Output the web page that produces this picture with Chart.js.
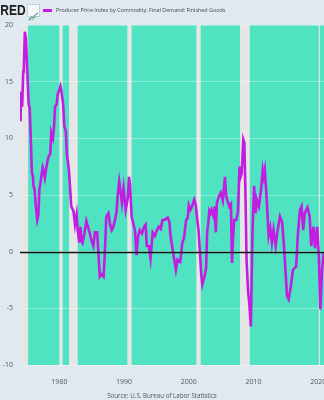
<!DOCTYPE html>
<html>
<head>
<meta charset="utf-8">
<script src="https://cdn.jsdelivr.net/npm/chart.js@4/dist/chart.umd.min.js"></script>
<style>
  html, body { margin: 0; padding: 0; background: #e1e9f0; overflow: hidden; }
  #wrap { position: relative; width: 324px; height: 400px; background: #e1e9f0; overflow: hidden; font-family: 'Open Sans', 'Liberation Sans', sans-serif; }
  #chart { position: absolute; left: 0; top: 0; }
  #logo { position: absolute; left: -7.5px; top: 0px; font-family: 'Liberation Sans', Arial, sans-serif; font-weight: bold; font-size: 15px; color: #1a1a1a; line-height: 20px; transform: scaleX(0.8); transform-origin: left center; white-space: nowrap; }
  #icon { position: absolute; left: 27px; top: 4px; width: 11px; height: 11px; background: #f4f6f8; border: 0.5px solid #c8d0d8; }
  #legend { position: absolute; left: 43px; top: 5px; height: 10px; display: flex; align-items: center; }
  #legend .swatch { width: 9px; height: 3px; background: #c21de0; margin-right: 4px; }
  #legend .txt { font-size: 5.4px; color: #444; white-space: nowrap; }
  #source { position: absolute; left: 0; width: 324px; top: 391px; text-align: center; font-size: 6.2px; color: #555; }
</style>
</head>
<body>
<div id="wrap">
  <canvas id="chart" width="324" height="400"></canvas>
  <div id="logo">FRED</div>
  <div id="icon"><svg width="11" height="11" viewBox="0 0 11 11"><polyline points="1,9 3,6 5,7 7,4 10,2" fill="none" stroke="#2a7fc9" stroke-width="1"/><polyline points="1,10 3,8 5,9 7,6 10,5" fill="none" stroke="#8bc34a" stroke-width="0.8"/></svg></div>
  <div id="legend"><div class="swatch"></div><div class="txt">Producer Price Index by Commodity: Final Demand: Finished Goods</div></div>
  <div id="source">Source: U.S. Bureau of Labor Statistics</div>
</div>
<script>
// ---- data ----
const months = [
 "1974-01","1974-02","1974-04","1974-06","1974-07","1974-09","1974-11","1975-01","1975-04","1975-06",
 "1975-08","1975-10","1975-12","1976-01","1976-03","1976-05","1976-08","1976-10","1976-12","1977-02",
 "1977-04","1977-06","1977-08","1977-10","1977-12","1978-03","1978-05","1978-08","1978-10","1979-01",
 "1979-03","1979-05","1979-08","1979-10","1980-01","1980-03","1980-05","1980-08","1980-10","1981-01",
 "1981-03","1981-05","1981-07","1981-09","1981-11","1982-03","1982-06","1982-09","1982-11","1983-02",
 "1983-04","1983-06","1983-08","1983-11","1984-03","1984-06","1984-09","1985-01","1985-04","1985-07",
 "1985-11","1986-01","1986-04","1986-07","1986-11","1987-01","1987-04","1987-08","1987-11","1988-02",
 "1988-05","1988-08","1988-11","1989-01","1989-04","1989-06","1989-09","1989-12","1990-04","1990-08",
 "1990-10","1990-12","1991-03","1991-06","1991-09","1991-12","1992-03","1992-06","1992-10","1993-02",
 "1993-05","1993-07","1993-11","1994-02","1994-06","1994-10","1995-02","1995-05","1995-09","1995-12",
 "1996-04","1996-10","1997-01","1997-03","1997-08","1998-01","1998-04","1998-09","1999-01","1999-04",
 "1999-08","1999-11","2000-01","2000-04","2000-07","2000-11","2001-02","2001-04","2001-07","2001-10",
 "2001-12","2002-02","2002-06","2002-09","2002-11","2003-01","2003-03","2003-05","2003-07","2003-11",
 "2004-01","2004-03","2004-05","2004-09","2004-12","2005-04","2005-08","2005-10","2005-12","2006-04",
 "2006-07","2006-09","2006-11","2007-01","2007-05","2007-08","2007-11","2008-01","2008-03","2008-06",
 "2008-08","2008-10","2008-12","2009-03","2009-05","2009-08","2009-11","2010-02","2010-05","2010-07",
 "2010-11","2011-03","2011-06","2011-08","2011-10","2012-01","2012-05","2012-08","2012-11","2013-02",
 "2013-06","2013-09","2014-02","2014-06","2014-09","2015-03","2015-06","2015-10","2016-02","2016-08",
 "2016-11","2017-03","2017-06","2017-09","2017-12","2018-05","2018-09","2018-12","2019-04","2019-07",
 "2019-11","2020-02","2020-05","2020-08","2020-11"
];
const ppiChange = [
 11.5,14.1,12.8,15.9,16.0,19.4,18.8,16.5,13.0,12.7,
 10.0,7.0,6.6,5.8,5.5,4.2,2.8,3.2,5.5,6.1,
 6.8,7.4,7.0,6.5,7.2,8.0,8.4,8.6,10.5,10.0,
 11.0,12.8,13.0,13.9,14.3,14.6,14.1,13.0,11.1,10.6,
 8.5,7.9,7.0,5.5,4.0,3.6,2.4,3.3,1.9,0.8,
 2.2,1.0,0.8,1.5,2.7,2.2,1.7,0.9,0.5,1.7,
 1.7,0.2,-2.2,-2.0,-2.2,-0.4,3.1,3.4,2.4,1.9,
 2.2,2.8,3.5,4.9,6.2,5.5,4.3,5.6,3.7,4.8,
 6.6,5.9,3.1,2.5,1.9,-0.3,1.4,1.9,1.6,2.2,
 2.4,0.5,0.5,-0.6,1.7,1.4,1.9,2.2,2.0,2.8,
 2.8,3.0,2.6,1.4,-0.1,-1.6,-0.7,-0.9,0.8,1.2,
 2.8,3.0,4.1,3.7,4.0,4.6,4.1,3.1,1.9,-0.4,
 -2.0,-2.9,-2.2,-1.5,1.7,2.5,3.6,3.4,3.7,3.1,
 4.0,1.7,4.3,4.9,5.2,4.5,6.6,5.0,4.6,4.0,
 4.2,-1.0,1.2,2.8,2.8,3.5,7.5,6.6,6.9,9.9,
 9.6,5.0,-0.7,-3.6,-4.5,-6.6,1.7,5.8,3.4,4.6,
 4.0,5.5,7.2,6.6,7.2,4.9,1.4,2.1,0.8,1.9,
 0.5,1.7,3.1,2.6,0.8,-3.9,-4.2,-3.1,-1.6,-1.3,
 1.4,3.7,4.0,1.9,3.4,3.9,3.1,0.5,2.2,0.3,
 2.2,-0.4,-5.1,-1.6,-0.1
];
const recessionStarts = ["1973-11","1980-01","1981-07","1990-07","2001-03","2007-12","2020-02"];
const recessionEnds   = ["1975-03","1980-07","1982-11","1991-03","2001-11","2009-06","2020-04"];
const xTickYears = [1980, 1990, 2000, 2010, 2020];
const yTickValues = [-10, -5, 0, 5, 10, 15, 20];

// month string -> fractional year
function toYear(m) { const p = m.split('-'); return +p[0] + (+p[1] - 1) / 12; }

const points = months.map((m, i) => ({ x: toYear(m), y: ppiChange[i] }));

const bandsPlugin = {
  id: 'bands',
  beforeDraw(chart) {
    const { ctx, chartArea: a, scales: { x } } = chart;
    ctx.save();
    ctx.fillStyle = '#50e3c2';
    ctx.fillRect(a.left, a.top, a.right - a.left, a.bottom - a.top);
    ctx.fillStyle = '#e6e6e6';
    recessionStarts.forEach((s, i) => {
      const x0 = Math.max(a.left, x.getPixelForValue(toYear(recessionStarts[i])));
      const x1 = Math.min(a.right, x.getPixelForValue(toYear(recessionEnds[i])));
      if (x1 > x0) ctx.fillRect(x0, a.top, x1 - x0, a.bottom - a.top);
    });
    ctx.restore();
  }
};
const zeroPlugin = {
  id: 'zero',
  afterDatasetsDraw(chart) {
    const { ctx, chartArea: a, scales: { y } } = chart;
    const py = Math.round(y.getPixelForValue(0)) + 0.5;
    ctx.save();
    ctx.strokeStyle = '#111';
    ctx.lineWidth = 1.5;
    ctx.beginPath(); ctx.moveTo(a.left, py); ctx.lineTo(a.right, py); ctx.stroke();
    ctx.restore();
  }
};

new Chart(document.getElementById('chart'), {
  type: 'line',
  data: {
    datasets: [{
      label: 'Producer Price Index by Commodity: Final Demand: Finished Goods',
      data: points,
      borderColor: '#c21de0',
      borderWidth: 2.6,
      pointRadius: 0,
      tension: 0,
      fill: false
    }]
  },
  options: {
    responsive: false,
    animation: false,
    devicePixelRatio: 1,
    layout: { padding: { top: 25, left: 0, right: 0, bottom: 0 } },
    plugins: { legend: { display: false }, tooltip: { enabled: false } },
    scales: {
      x: {
        type: 'linear',
        min: toYear("1973-12"),
        max: toYear("2020-11") + 0.05,
        grid: { display: false },
        border: { display: false },
        afterBuildTicks(scale) { scale.ticks = xTickYears.map(v => ({ value: v })); },
        afterFit(scale) { scale.height = 35; scale.paddingLeft = 0; scale.paddingRight = 0; },
        ticks: {
          autoSkip: false, maxRotation: 0, padding: 5,
          color: '#555', font: { family: 'Open Sans', size: 7 },
          callback: v => String(v)
        }
      },
      y: {
        min: -10, max: 20,
        grid: { color: 'rgba(255,255,255,0.35)', lineWidth: 1, drawTicks: false },
        border: { display: false },
        afterBuildTicks(scale) { scale.ticks = yTickValues.map(v => ({ value: v })); },
        afterFit(scale) { scale.width = 20; scale.paddingTop = 0; scale.paddingBottom = 0; },
        ticks: {
          padding: 7, color: '#555', font: { family: 'Open Sans', size: 7 },
          callback: v => String(v)
        }
      }
    }
  },
  plugins: [bandsPlugin, zeroPlugin]
});
</script>
</body>
</html>
